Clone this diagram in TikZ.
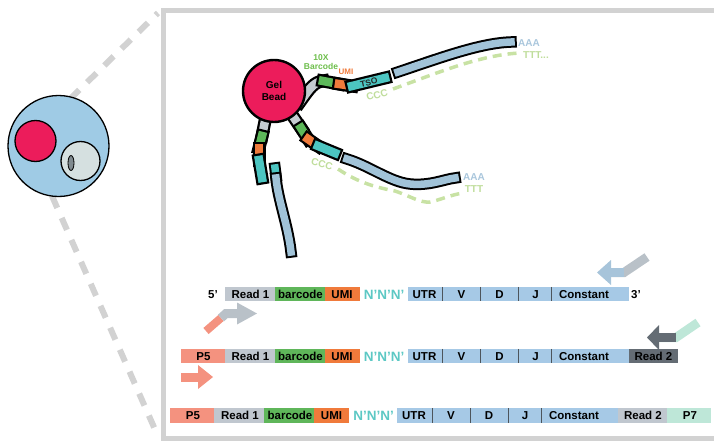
\documentclass[tikz,border=0pt]{standalone}
\usepackage{fontspec}
\setmainfont{Liberation Sans}
\usetikzlibrary{shapes.geometric}
\definecolor{framegray}{HTML}{D2D2D2}
\definecolor{dropblue}{HTML}{9FCBE5}
\definecolor{beadred}{HTML}{EC1C5B}
\definecolor{cellgray}{HTML}{D5E0E0}
\definecolor{nucgray}{HTML}{7F8A8F}
\definecolor{seggray}{HTML}{C5CCD1}
\definecolor{seggreen}{HTML}{5DB85A}
\definecolor{segorange}{HTML}{F07B3C}
\definecolor{segteal}{HTML}{4CC5C1}
\definecolor{strandblue}{HTML}{A1C3D8}
\definecolor{dashgreen}{HTML}{C8E2A4}
\definecolor{lblgreen}{HTML}{6DBE4B}
\definecolor{lblblue}{HTML}{A9C6DC}
\definecolor{lbllight}{HTML}{BFDD9B}
\definecolor{p5salmon}{HTML}{F4927F}
\definecolor{readgray}{HTML}{C0C7CF}
\definecolor{bcgreen}{HTML}{5FB65A}
\definecolor{umiorange}{HTML}{F07A3B}
\definecolor{vdjblue}{HTML}{A6C9E6}
\definecolor{readdark}{HTML}{646C74}
\definecolor{p7mint}{HTML}{BEE7D8}
\definecolor{nteal}{HTML}{5CC8C4}
\definecolor{arrblue}{HTML}{A7C4DA}
\definecolor{arrgray}{HTML}{B9C1C8}
\definecolor{divgray}{HTML}{4D555C}
\begin{document}
\begin{tikzpicture}[x=1pt,y=-1pt,
  zoomline/.style={draw=framegray, line width=6pt, dash pattern=on 13pt off 11pt},
  dnaseg/.style={line width=8.5pt, line cap=rect,
    preaction={draw=black, line width=13pt, line cap=rect}},
  cdna/.style={line width=7.5pt, line cap=rect, draw=strandblue,
    preaction={draw=black, line width=11.5pt, line cap=rect}},
  polyt/.style={draw=dashgreen, line width=3.5pt, dash pattern=on 9pt off 6pt},
  tiny/.style={font=\bfseries\fontsize{8.5}{9.5}\selectfont, inner sep=0pt, align=center},
  tail/.style={font=\bfseries\fontsize{10}{11}\selectfont, inner sep=0pt},
  rowtxt/.style={font=\bfseries\fontsize{11.5}{12}\selectfont, anchor=base, inner sep=0pt},
  ntxt/.style={font=\bfseries\fontsize{13.5}{14}\selectfont, anchor=base, inner sep=0pt, text=nteal},
  divider/.style={draw=divgray, line width=0.9pt}
]
\useasboundingbox (0,0) rectangle (714,441);

% ---------- frame of the enlarged view ----------
\coordinate (boxTL) at (163.5,10.5);
\coordinate (boxBL) at (163.5,438.5);
\draw[framegray, line width=5pt] (730,10.5) -- (boxTL) -- (boxBL) -- (730,438.5);

% ---------- droplet with bead and cell ----------
\coordinate (dropTop) at (70,99);
\coordinate (dropBot) at (52,196);
\draw[zoomline] (dropTop) -- (158,13);
\draw[zoomline] (dropBot) -- (157,434);
\node[circle, draw=black, line width=1.3pt, fill=dropblue, minimum size=101pt, inner sep=0pt] (drop) at (58.5,146) {};
\node[circle, draw=black, line width=1.3pt, fill=beadred, minimum size=41pt, inner sep=0pt] (minibead) at (35.5,141) {};
\node[circle, draw=black, line width=1.3pt, fill=cellgray, minimum size=39pt, inner sep=0pt] (cell) at (80.5,161) {};
\node[ellipse, draw=black, line width=0.8pt, fill=nucgray, minimum width=6pt, minimum height=15pt, inner sep=0pt] (nucleus) at (71,163) {};

% ---------- oligos on the gel bead ----------
% upper oligo
\draw[dnaseg, draw=seggray] (300,102) .. controls (310,88) and (314,82) .. (323,81);
\draw[dnaseg, draw=seggreen] (323,81) -- (339,84);
\draw[dnaseg, draw=segorange] (339,84) -- (352,86);
\draw[dnaseg, draw=segteal] (352,86) -- (385,78);
\draw[cdna] (398,72) .. controls (440,58) and (480,43) .. (511,42);
\draw[polyt] (393,89) .. controls (440,72) and (480,55) .. (520,53);
% middle oligo
\draw[dnaseg, draw=seggray] (290,112) .. controls (296,120) .. (301,128);
\draw[dnaseg, draw=seggreen] (301,128) -- (308,139);
\draw[dnaseg, draw=segorange] (308,139) -- (318,146);
\draw[dnaseg, draw=segteal] (318,146) -- (335,153);
\draw[cdna] (347,159) .. controls (370,166) and (390,182) .. (410,184) .. controls (430,186) and (445,179) .. (455,178);
\draw[polyt] (338,169) .. controls (360,184) and (380,188) .. (395,191) .. controls (410,196) and (420,203) .. (430,202) .. controls (440,200) and (450,195) .. (463,193);
% lower oligo
\draw[dnaseg, draw=seggray] (266,116) -- (262,136);
\draw[dnaseg, draw=seggreen] (262,136) -- (259,148);
\draw[dnaseg, draw=segorange] (259,148) -- (259,160);
\draw[dnaseg, draw=segteal] (259,160) -- (262,178);
\draw[cdna, draw=segteal] (275,168) -- (276,176);
\draw[cdna] (276,178) .. controls (278,200) and (288,225) .. (291,252);

\node[circle, draw=black, line width=2.4pt, fill=beadred, minimum size=62pt, inner sep=0pt,
      font=\bfseries\fontsize{10}{12}\selectfont, align=center] (bead) at (274,91) {Gel\\Bead};

% labels along the oligos
\node[tiny, text=lblgreen] (bclbl) at (321,62) {10X\\Barcode};
\node[tiny, text=segorange, font=\bfseries\fontsize{8}{9}\selectfont] (umilbl) at (346,71.5) {UMI};
\node[tiny, text=black!85, rotate=13] (tsolbl) at (369,82.5) {TSO};
\node[tail, text=lbllight, rotate=14] (ccc1) at (377,95) {CCC};
\node[tail, text=lblblue] (aaa1) at (529,43) {AAA};
\node[tail, text=lbllight] (ttt1) at (536,55) {TTT...};
\node[tail, text=lbllight, rotate=-15] (ccc2) at (322,164) {CCC};
\node[tail, text=lblblue] (aaa2) at (474,177) {AAA};
\node[tail, text=lbllight] (ttt2) at (474,189) {TTT};

% ---------- row 1: first strand ----------
\fill[readgray]  (224.5,286.75) rectangle (274.5,301.25);
\fill[bcgreen]   (274.5,286.75) rectangle (324.5,301.25);
\fill[umiorange] (324.5,286.75) rectangle (359.5,301.25);
\fill[vdjblue]   (407.5,286.75) rectangle (628.5,301.25);
\foreach \dx in {442.5,480.5,518.5,551.5} \draw[divider] (\dx,286.75) -- (\dx,301.25);
\node[rowtxt] (r1five) at (213,298.2) {5’};
\node[rowtxt] (r1read) at (250.5,298.2) {Read 1};
\node[rowtxt] (r1bc) at (300.5,298.2) {barcode};
\node[rowtxt] (r1umi) at (342,298.2) {UMI};
\node[ntxt] (r1n) at (384,299) {N’N’N’};
\node[rowtxt] (r1utr) at (424.5,298.2) {UTR};
\node[rowtxt] (r1v) at (461.5,298.2) {V};
\node[rowtxt] (r1d) at (499.5,298.2) {D};
\node[rowtxt] (r1j) at (535.5,298.2) {J};
\node[rowtxt] (r1c) at (584,298.2) {Constant};
\node[rowtxt] (r1three) at (636,298.2) {3’};

% primers on row 1
\draw[arrgray, line width=9pt, line join=miter] (609,272.5) -- (624,272.5) -- (647,257);
\draw[arrblue, line width=9pt] (609,272.5) -- (624,272.5);
\fill[arrblue] (611,260) -- (597,272.5) -- (611,285) -- cycle;
\draw[p5salmon, line width=8pt] (206,331) -- (221,318);
\draw[arrgray, line width=9pt, line join=miter] (221,318) -- (226,313.5) -- (239,313.5);
\fill[arrgray] (237,302.5) -- (257,313.5) -- (237,324.5) -- cycle;

% ---------- row 2: amplified product ----------
\fill[p5salmon]  (180.5,348.75) rectangle (224.5,363.25);
\fill[readgray]  (224.5,348.75) rectangle (274.5,363.25);
\fill[bcgreen]   (274.5,348.75) rectangle (324.5,363.25);
\fill[umiorange] (324.5,348.75) rectangle (359.5,363.25);
\fill[vdjblue]   (407.5,348.75) rectangle (628.5,363.25);
\fill[readdark]  (628.5,348.75) rectangle (677.5,363.25);
\foreach \dx in {442.5,480.5,518.5,551.5} \draw[divider] (\dx,348.75) -- (\dx,363.25);
\node[rowtxt] (r2p5) at (203.5,360.2) {P5};
\node[rowtxt] (r2read) at (250.5,360.2) {Read 1};
\node[rowtxt] (r2bc) at (300.5,360.2) {barcode};
\node[rowtxt] (r2umi) at (342,360.2) {UMI};
\node[ntxt] (r2n) at (384,361) {N’N’N’};
\node[rowtxt] (r2utr) at (424.5,360.2) {UTR};
\node[rowtxt] (r2v) at (461.5,360.2) {V};
\node[rowtxt] (r2d) at (499.5,360.2) {D};
\node[rowtxt] (r2j) at (535.5,360.2) {J};
\node[rowtxt] (r2c) at (584,360.2) {Constant};
\node[rowtxt] (r2read2) at (653.5,360.2) {Read 2};

% primers on row 2
\draw[p7mint, line width=9pt, line join=miter] (659,337.5) -- (676,337.5) -- (698,322.5);
\draw[readdark, line width=9pt] (658,337.5) -- (676,337.5);
\fill[readdark] (659,325) -- (647,337.5) -- (659,350) -- cycle;
\fill[p5salmon] (181,372.5) rectangle (199,381.5);
\fill[p5salmon] (198,365) -- (213,377) -- (198,389) -- cycle;

% ---------- row 3: final library ----------
\fill[p5salmon]  (170,408.25) rectangle (214,422.75);
\fill[readgray]  (214,408.25) rectangle (264,422.75);
\fill[bcgreen]   (264,408.25) rectangle (314,422.75);
\fill[umiorange] (314,408.25) rectangle (349,422.75);
\fill[vdjblue]   (397,408.25) rectangle (618,422.75);
\fill[readgray]  (618,408.25) rectangle (667,422.75);
\fill[p7mint]    (667,408.25) rectangle (711,422.75);
\foreach \dx in {432,470,508,541} \draw[divider] (\dx,408.25) -- (\dx,422.75);
\node[rowtxt] (r3p5) at (193,419.7) {P5};
\node[rowtxt] (r3read) at (240,419.7) {Read 1};
\node[rowtxt] (r3bc) at (290,419.7) {barcode};
\node[rowtxt] (r3umi) at (331.5,419.7) {UMI};
\node[ntxt] (r3n) at (373.5,420.5) {N’N’N’};
\node[rowtxt] (r3utr) at (414,419.7) {UTR};
\node[rowtxt] (r3v) at (451,419.7) {V};
\node[rowtxt] (r3d) at (489,419.7) {D};
\node[rowtxt] (r3j) at (525,419.7) {J};
\node[rowtxt] (r3c) at (574,419.7) {Constant};
\node[rowtxt] (r3read2) at (643,419.7) {Read 2};
\node[rowtxt] (r3p7) at (690,419.7) {P7};
\end{tikzpicture}
\end{document}
